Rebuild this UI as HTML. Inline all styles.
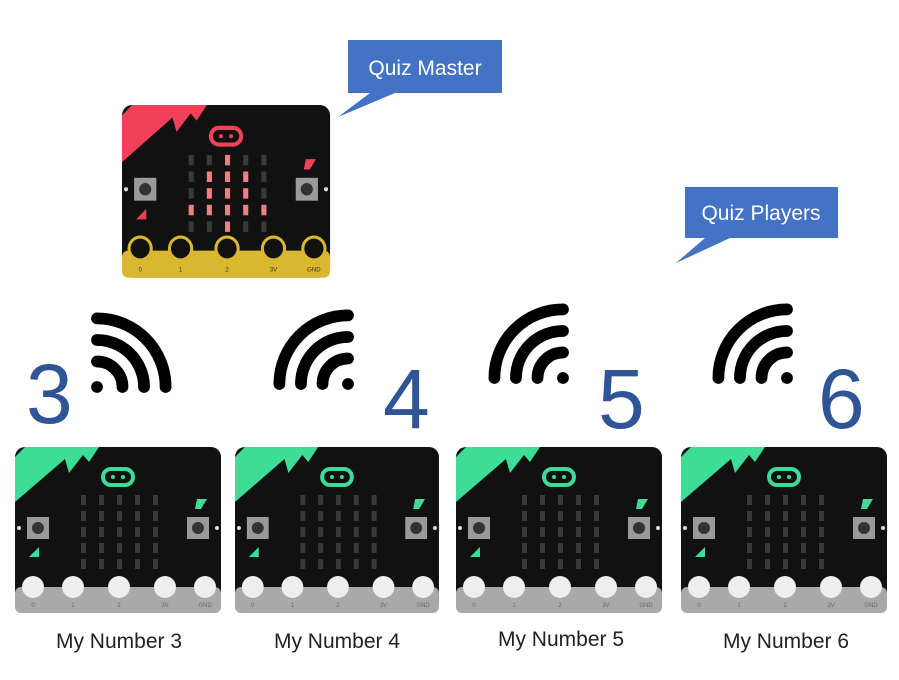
<!DOCTYPE html>
<html><head><meta charset="utf-8"><style>
html,body{margin:0;padding:0;background:#fff;}
body{width:899px;height:675px;overflow:hidden;position:relative;font-family:"Liberation Sans",sans-serif;}
</style></head><body>
<svg width="899" height="675" viewBox="0 0 899 675" xmlns="http://www.w3.org/2000/svg">
<defs>
<g id="leds">
  <g fill="#3a3a3a">
  <rect x="66" y="48" width="5" height="10"/><rect x="84" y="48" width="5" height="10"/><rect x="102" y="48" width="5" height="10"/><rect x="120" y="48" width="5" height="10"/><rect x="138" y="48" width="5" height="10"/>
  <rect x="66" y="64" width="5" height="10"/><rect x="84" y="64" width="5" height="10"/><rect x="102" y="64" width="5" height="10"/><rect x="120" y="64" width="5" height="10"/><rect x="138" y="64" width="5" height="10"/>
  <rect x="66" y="80" width="5" height="10"/><rect x="84" y="80" width="5" height="10"/><rect x="102" y="80" width="5" height="10"/><rect x="120" y="80" width="5" height="10"/><rect x="138" y="80" width="5" height="10"/>
  <rect x="66" y="96" width="5" height="10"/><rect x="84" y="96" width="5" height="10"/><rect x="102" y="96" width="5" height="10"/><rect x="120" y="96" width="5" height="10"/><rect x="138" y="96" width="5" height="10"/>
  <rect x="66" y="112" width="5" height="10"/><rect x="84" y="112" width="5" height="10"/><rect x="102" y="112" width="5" height="10"/><rect x="120" y="112" width="5" height="10"/><rect x="138" y="112" width="5" height="10"/>
  </g>
</g>
<g id="base">
  <rect x="0" y="0" width="206" height="166" rx="10" fill="#111"/>
  <rect x="12" y="70" width="22" height="22" fill="#9a9a9a"/><circle cx="23" cy="81" r="6" fill="#333"/>
  <rect x="172" y="70" width="22" height="22" fill="#9a9a9a"/><circle cx="183" cy="81" r="6" fill="#333"/>
  <circle cx="4" cy="81" r="2" fill="#ddd"/><circle cx="202" cy="81" r="2" fill="#ddd"/>
  <use href="#leds"/>
</g>
<g id="player">
  <use href="#base"/>
  <polygon points="0,55 0,10 10,0 84,0 74,15 68,8 54,26 50,12" fill="#3ddc97"/>
  <rect x="88" y="22" width="30" height="16" rx="8" fill="none" stroke="#3ddc97" stroke-width="4"/>
  <circle cx="98" cy="30" r="2" fill="#3ddc97"/><circle cx="108" cy="30" r="2" fill="#3ddc97"/>
  <polygon points="182,52 192,52 186,62 180,62" fill="#3ddc97"/>
  <polygon points="14,110 24,100 24,110" fill="#3ddc97"/>
  <rect x="0" y="140" width="206" height="26" rx="6" fill="#a9a9a9"/>
  <g fill="#eee"><circle cx="18" cy="140" r="11"/><circle cx="58" cy="140" r="11"/><circle cx="104" cy="140" r="11"/><circle cx="150" cy="140" r="11"/><circle cx="190" cy="140" r="11"/></g>
  <g font-size="6" fill="#666" text-anchor="middle"><text x="18" y="160">0</text><text x="58" y="160">1</text><text x="104" y="160">2</text><text x="150" y="160">3V</text><text x="190" y="160">GND</text></g>
</g>
<g id="master">
  <use href="#base"/>
  <polygon points="0,55 0,10 10,0 84,0 74,15 68,8 54,26 50,12" fill="#f0405a"/>
  <rect x="88" y="22" width="30" height="16" rx="8" fill="none" stroke="#f0405a" stroke-width="4"/>
  <circle cx="98" cy="30" r="2" fill="#f0405a"/><circle cx="108" cy="30" r="2" fill="#f0405a"/>
  <polygon points="182,52 192,52 186,62 180,62" fill="#f0405a"/>
  <polygon points="14,110 24,100 24,110" fill="#f0405a"/>
  <g fill="#f08080">
  <rect x="102" y="48" width="5" height="10"/>
  <rect x="84" y="64" width="5" height="10"/><rect x="102" y="64" width="5" height="10"/><rect x="120" y="64" width="5" height="10"/>
  <rect x="84" y="80" width="5" height="10"/><rect x="102" y="80" width="5" height="10"/><rect x="120" y="80" width="5" height="10"/>
  <rect x="66" y="96" width="5" height="10"/><rect x="84" y="96" width="5" height="10"/><rect x="102" y="96" width="5" height="10"/><rect x="120" y="96" width="5" height="10"/><rect x="138" y="96" width="5" height="10"/>
  <rect x="102" y="112" width="5" height="10"/>
  </g>
  <rect x="0" y="140" width="206" height="26" rx="6" fill="#d9b830"/>
  <g fill="#111" stroke="#d9b830" stroke-width="3"><circle cx="18" cy="138" r="11"/><circle cx="58" cy="138" r="11"/><circle cx="104" cy="138" r="11"/><circle cx="150" cy="138" r="11"/><circle cx="190" cy="138" r="11"/></g>
  <g font-size="6" fill="#333" text-anchor="middle"><text x="18" y="160">0</text><text x="58" y="160">1</text><text x="104" y="160">2</text><text x="150" y="160">3V</text><text x="190" y="160">GND</text></g>
</g>
<g id="wifiR" fill="none" stroke="#000" stroke-width="12" stroke-linecap="round">
  <path d="M0,-26 A26,26 0 0 1 26,0"/>
  <path d="M0,-48 A48,48 0 0 1 48,0"/>
  <path d="M0,-70 A70,70 0 0 1 70,0"/>
  <circle cx="0" cy="0" r="6" fill="#000" stroke="none"/>
</g>
</defs>

<!-- callouts -->
<polygon points="348,40 502,40 502,93 395,93 338,117 370,93 348,93" fill="#4472c4"/>
<text x="425" y="75" font-size="21" fill="#fff" text-anchor="middle">Quiz Master</text>
<polygon points="685,187 838,187 838,238 730,238 676,263 705,238 685,238" fill="#4472c4"/>
<text x="761" y="220" font-size="21" fill="#fff" text-anchor="middle">Quiz Players</text>

<!-- master board -->
<g transform="translate(122,105) scale(1.01,1.04)"><use href="#master"/></g>

<!-- wifi -->
<g transform="translate(97,387) scale(0.98)"><use href="#wifiR"/></g>
<g transform="translate(348,384) scale(-0.98,0.98)"><use href="#wifiR"/></g>
<g transform="translate(563,378) scale(-0.98,0.98)"><use href="#wifiR"/></g>
<g transform="translate(787,378) scale(-0.98,0.98)"><use href="#wifiR"/></g>

<!-- numbers -->
<g font-size="84" fill="#2f5597" font-family="Liberation Sans, sans-serif">
<text x="26" y="423">3</text>
<text x="383" y="428">4</text>
<text x="598" y="428">5</text>
<text x="818" y="428">6</text>
</g>

<!-- player boards -->
<g transform="translate(15,447)"><use href="#player"/></g>
<g transform="translate(235,447) scale(0.99,1)"><use href="#player"/></g>
<g transform="translate(456,447)"><use href="#player"/></g>
<g transform="translate(681,447)"><use href="#player"/></g>

<g font-size="21" fill="#222" text-anchor="middle">
<text x="119" y="648">My Number 3</text>
<text x="337" y="648">My Number 4</text>
<text x="561" y="646">My Number 5</text>
<text x="786" y="648">My Number 6</text>
</g>
</svg>
</body></html>
